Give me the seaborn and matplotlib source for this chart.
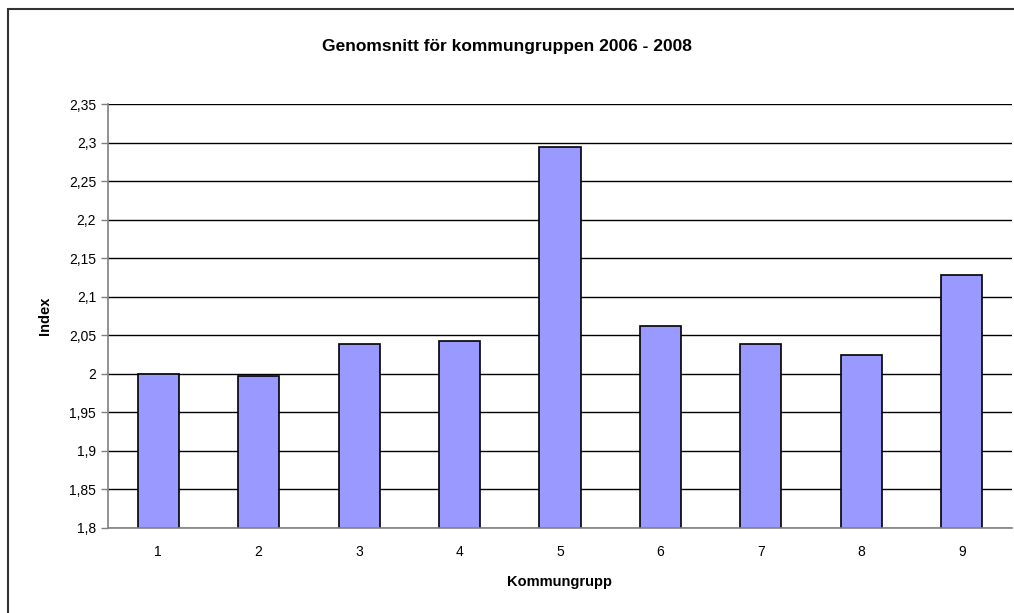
import numpy as np
import pandas as pd
import matplotlib
matplotlib.use("Agg")
import matplotlib.pyplot as plt
from matplotlib.ticker import FuncFormatter, MultipleLocator, FixedLocator
from matplotlib.patches import Rectangle
import seaborn as sns

groups = ["1", "2", "3", "4", "5", "6", "7", "8", "9"]
index_values = [2.000, 1.997, 2.039, 2.042, 2.294, 2.062, 2.039, 2.024, 2.128]

sns.set_style("white")
plt.rcParams['font.family'] = ['Liberation Sans', 'DejaVu Sans']
plt.rcParams['text.color'] = 'black'
plt.rcParams['axes.labelcolor'] = 'black'
plt.rcParams['xtick.labelcolor'] = 'black'
plt.rcParams['ytick.labelcolor'] = 'black'

df = pd.DataFrame({"Kommungrupp": groups, "Index": index_values})

fig = plt.figure(figsize=(10.14, 6.13), dpi=100)
ax = fig.add_axes([0.1065, 0.1387, 0.8915, 0.6916])

sns.barplot(data=df, x="Kommungrupp", y="Index", color="#9999FF",
            edgecolor="black", linewidth=1.2, width=0.41, saturation=1, ax=ax)

ax.set_ylim(1.8, 2.35)
ax.set_xlim(-0.5, 8.5)
ax.yaxis.set_major_locator(MultipleLocator(0.05))
ax.yaxis.set_major_formatter(FuncFormatter(lambda v, p: f"{round(v, 2):g}".replace(".", ",")))
ax.grid(axis="y", color="black", linewidth=1)
ax.set_axisbelow(True)

# tick marks between categories
ax.xaxis.set_minor_locator(FixedLocator(np.arange(-0.5, 9, 1)))
ax.tick_params(axis="x", which="major", length=0, labelsize=10, pad=12)
ax.tick_params(axis="x", which="minor", length=5, width=1, color="#808080", direction="out")
ax.tick_params(axis="y", length=5, width=1, color="#808080", direction="out", labelsize=10, left=True)

for s in ["top", "right"]:
    ax.spines[s].set_visible(False)
for s in ["left", "bottom"]:
    ax.spines[s].set_color("#808080")
    ax.spines[s].set_linewidth(1.2)

ax.set_xlabel("Kommungrupp", fontsize=10.5, fontweight="bold", labelpad=12)
ax.set_ylabel("Index", fontsize=10.5, fontweight="bold", labelpad=12)
fig.suptitle("Genomsnitt för kommungruppen 2006 - 2008", fontsize=12.5,
             fontweight="bold", x=0.5, y=0.937)

fig.patches.append(Rectangle((0.008, -0.1), 1.2, 1.085, transform=fig.transFigure,
                             fill=False, edgecolor="#333333", linewidth=1.5))

fig.savefig("out.png", dpi=100)
